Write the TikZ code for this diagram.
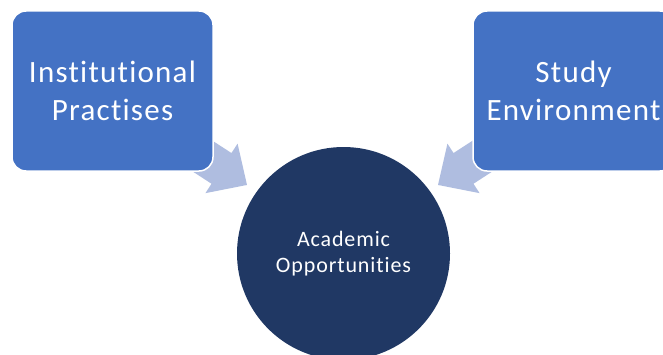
\documentclass[tikz,border=0pt]{standalone}
\usepackage{fontspec}
\setmainfont{Carlito}[Ligatures={NoCommon}, LetterSpace=4]
\definecolor{boxblue}{HTML}{4472C4}
\definecolor{navy}{HTML}{203864}
\definecolor{arrowtint}{HTML}{AFBDE0}
\begin{document}
\begin{tikzpicture}[x=1pt,y=1pt,
  box/.style={draw=white, line width=1.5pt, fill=boxblue, rounded corners=14pt,
    minimum width=201pt, minimum height=160pt, inner sep=0pt,
    text=white, align=center, font=\fontsize{31}{38}\selectfont},
  hub/.style={circle, fill=navy, minimum size=213pt, inner sep=0pt,
    text=white, align=center, font=\fontsize{22}{25.5}\selectfont},
  blockarrow/.style={fill=arrowtint}]
\useasboundingbox (0,0) rectangle (663,354);
\clip (0,0) rectangle (663,354);
\fill[white] (0,0) rectangle (663,354);
% anchor points of the two block arrows (mid of arrow-head base)
\coordinate (la) at (221.5,185.6);
\coordinate (ra) at (463.5,185.6);
% block arrows, drawn first so the boxes cover their tails
\fill[blockarrow, shift={(la)}, rotate=-33]
  (-60,18.3) -- (0,18.3) -- (0,29.5) -- (30.4,0) -- (0,-29.5) -- (0,-18.3) -- (-60,-18.3) -- cycle;
\fill[blockarrow, shift={(ra)}, rotate=213]
  (-60,18.3) -- (0,18.3) -- (0,29.5) -- (30.4,0) -- (0,-29.5) -- (0,-18.3) -- (-60,-18.3) -- cycle;
% boxes and the central circle
\node[box] (inst) at (112.5,263) {Institutional\\Practises};
\node[box] (study) at (573.5,263) {Study\\Environment};
\node[hub] (acad) at (343.5,100.5) {Academic\\Opportunities};
\end{tikzpicture}
\end{document}
